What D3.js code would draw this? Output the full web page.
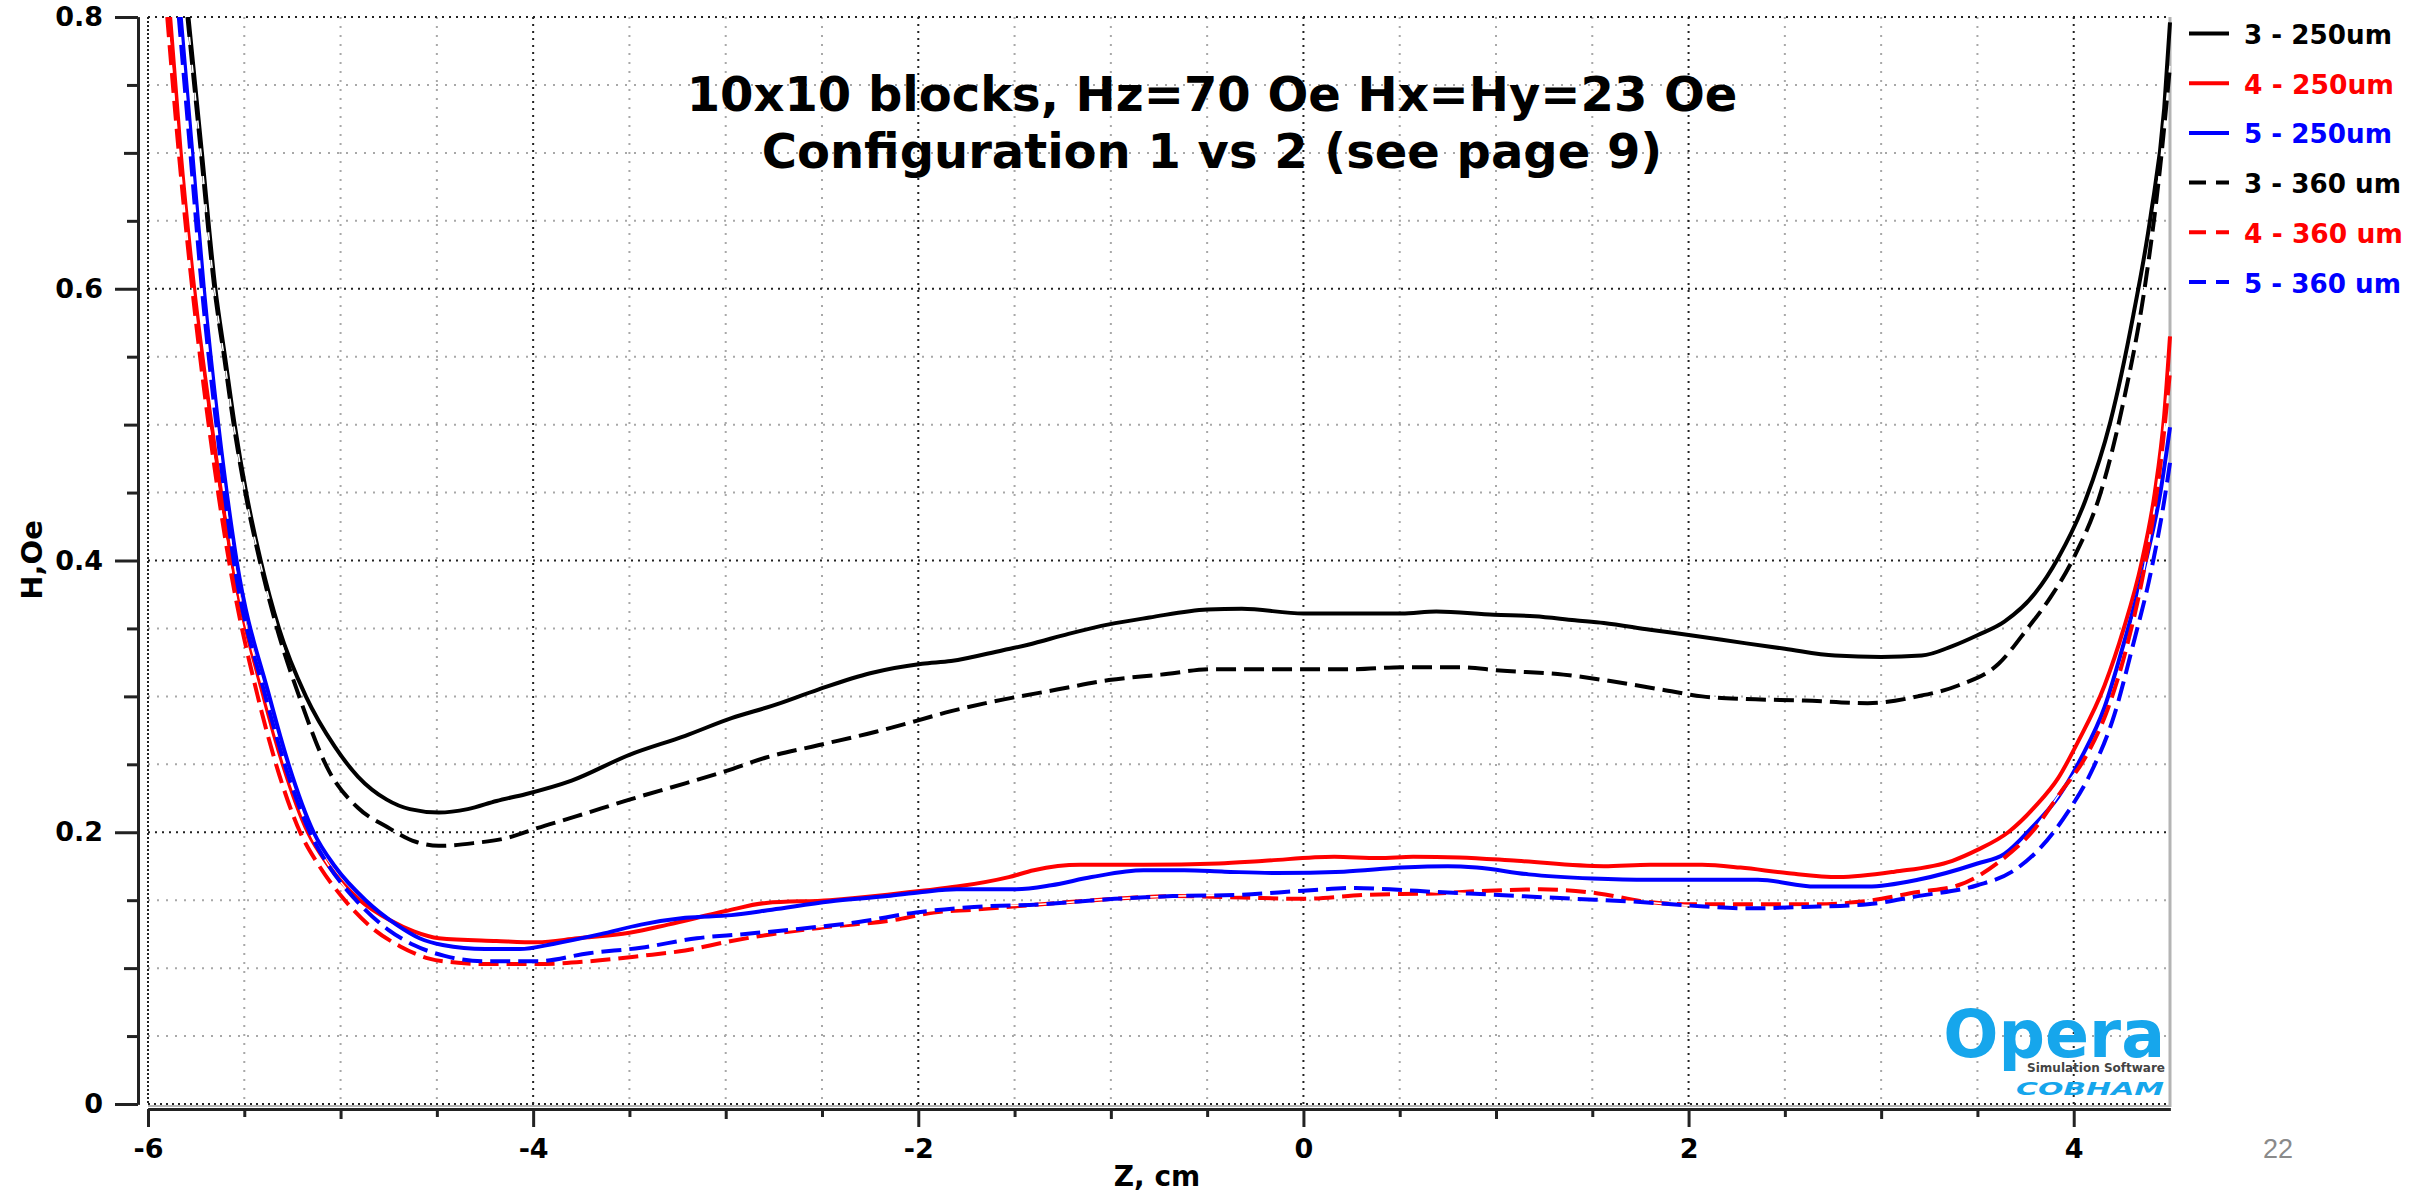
<!DOCTYPE html>
<html>
<head>
<meta charset="utf-8">
<script src="https://cdn.jsdelivr.net/npm/d3@7"></script>
<style>
html,body{margin:0;padding:0;background:#fff;}
svg{display:block;}
text{font-family:"DejaVu Sans",Verdana,sans-serif;}
</style>
</head>
<body>
<svg id="chart" width="2430" height="1195"></svg>
<script>
// ---------- data ----------
const titleLines = ["10x10 blocks, Hz=70 Oe Hx=Hy=23 Oe", "Configuration 1 vs 2 (see page 9)"];
const xLabel = "Z, cm";
const yLabel = "H,Oe";
const pageNumber = "22";

const seriesNames = ["3 - 250um", "4 - 250um", "5 - 250um", "3 - 360 um", "4 - 360 um", "5 - 360 um"];
const seriesColors = ["#000000", "#ff0000", "#0000ff", "#000000", "#ff0000", "#0000ff"];
const seriesDashed = [false, false, false, true, true, true];

const xMajorTicks = [-6, -4, -2, 0, 2, 4];
const xMidTicks = [-5, -3, -1, 1, 3];
const xMinorTicks = [-5.5, -4.5, -3.5, -2.5, -1.5, -0.5, 0.5, 1.5, 2.5, 3.5];
const yMajorTicks = [0, 0.2, 0.4, 0.6, 0.8];
const yMidTicks = [0.1, 0.3, 0.5, 0.7];
const yMinorTicks = [0.05, 0.15, 0.25, 0.35, 0.45, 0.55, 0.65, 0.75];

const s3_250 = [[-5.79,0.80],[-5.72,0.70],[-5.65,0.60],[-5.60,0.55],[-5.55,0.50],[-5.49,0.45],[-5.415,0.40],[-5.32,0.35],[-5.18,0.30],[-5.03,0.263],[-4.91,0.241],[-4.76,0.224],[-4.64,0.217],[-4.49,0.2145],[-4.34,0.217],[-4.19,0.223],[-4.04,0.228],[-3.80,0.238],[-3.50,0.257],[-3.21,0.271],[-2.97,0.284],[-2.76,0.293],[-2.52,0.305],[-2.25,0.317],[-1.98,0.324],[-1.83,0.326],[-1.56,0.334],[-1.43,0.338],[-1.22,0.346],[-1.01,0.353],[-0.80,0.358],[-0.50,0.364],[-0.32,0.3645],[0.0,0.361],[0.27,0.361],[0.51,0.361],[0.69,0.3625],[0.99,0.360],[1.20,0.359],[1.41,0.356],[1.56,0.354],[1.80,0.349],[2.01,0.345],[2.30,0.339],[2.50,0.335],[2.76,0.330],[3.00,0.329],[3.21,0.330],[3.37,0.337],[3.50,0.345],[3.64,0.355],[3.80,0.376],[3.92,0.402],[4.06,0.444],[4.19,0.502],[4.31,0.581],[4.40,0.654],[4.47,0.733],[4.50,0.796]];
const s4_250 = [[-5.885,0.80],[-5.83,0.70],[-5.76,0.60],[-5.67,0.50],[-5.565,0.40],[-5.40,0.30],[-5.30,0.25],[-5.17,0.20],[-5.06,0.175],[-4.90,0.150],[-4.74,0.135],[-4.62,0.127],[-4.49,0.122],[-4.19,0.120],[-3.98,0.119],[-3.77,0.122],[-3.50,0.126],[-3.30,0.132],[-3.00,0.142],[-2.79,0.148],[-2.46,0.150],[-2.16,0.154],[-1.98,0.157],[-1.80,0.160],[-1.53,0.167],[-1.40,0.172],[-1.16,0.176],[-0.83,0.176],[-0.44,0.177],[-0.20,0.179],[0.16,0.182],[0.39,0.181],[0.57,0.182],[0.81,0.1815],[1.11,0.179],[1.56,0.175],[1.80,0.176],[2.07,0.176],[2.27,0.174],[2.51,0.170],[2.78,0.167],[3.07,0.171],[3.37,0.179],[3.50,0.187],[3.66,0.200],[3.80,0.219],[3.92,0.240],[4.02,0.266],[4.16,0.308],[4.26,0.350],[4.35,0.397],[4.42,0.449],[4.47,0.507],[4.50,0.565]];
const s5_250 = [[-5.83,0.80],[-5.77,0.70],[-5.71,0.60],[-5.635,0.50],[-5.54,0.40],[-5.37,0.30],[-5.27,0.25],[-5.14,0.20],[-5.03,0.175],[-4.87,0.150],[-4.71,0.132],[-4.59,0.122],[-4.47,0.117],[-4.25,0.114],[-4.07,0.114],[-3.89,0.118],[-3.65,0.125],[-3.44,0.132],[-3.21,0.137],[-2.97,0.139],[-2.76,0.143],[-2.46,0.149],[-2.16,0.153],[-1.98,0.156],[-1.80,0.158],[-1.50,0.158],[-1.31,0.161],[-1.10,0.167],[-0.83,0.172],[-0.62,0.172],[-0.41,0.171],[-0.14,0.170],[0.21,0.171],[0.51,0.174],[0.75,0.175],[0.90,0.174],[1.17,0.169],[1.50,0.166],[1.80,0.165],[2.36,0.165],[2.66,0.160],[2.93,0.160],[3.19,0.165],[3.50,0.177],[3.64,0.184],[3.78,0.203],[3.92,0.226],[4.04,0.255],[4.16,0.292],[4.26,0.339],[4.37,0.397],[4.45,0.450],[4.50,0.498]];
const s3_360 = [[-5.795,0.80],[-5.725,0.70],[-5.655,0.60],[-5.605,0.55],[-5.555,0.50],[-5.495,0.45],[-5.42,0.40],[-5.33,0.35],[-5.215,0.30],[-5.06,0.245],[-4.91,0.218],[-4.76,0.204],[-4.61,0.193],[-4.49,0.190],[-4.31,0.192],[-4.13,0.196],[-3.98,0.203],[-3.77,0.212],[-3.50,0.224],[-3.21,0.236],[-3.00,0.245],[-2.79,0.255],[-2.52,0.264],[-2.22,0.274],[-2.01,0.282],[-1.86,0.288],[-1.65,0.295],[-1.28,0.305],[-1.01,0.312],[-0.74,0.316],[-0.47,0.320],[0.0,0.320],[0.27,0.320],[0.51,0.3215],[0.81,0.3215],[1.02,0.319],[1.35,0.316],[1.56,0.312],[1.86,0.305],[2.07,0.300],[2.30,0.298],[2.60,0.297],[2.93,0.295],[3.19,0.300],[3.40,0.308],[3.61,0.324],[3.76,0.350],[3.88,0.373],[4.00,0.402],[4.14,0.450],[4.26,0.518],[4.37,0.602],[4.45,0.691],[4.50,0.764]];
const s4_360 = [[-5.90,0.80],[-5.84,0.70],[-5.77,0.60],[-5.685,0.50],[-5.58,0.40],[-5.43,0.30],[-5.335,0.25],[-5.21,0.20],[-5.11,0.175],[-4.99,0.152],[-4.84,0.130],[-4.69,0.116],[-4.54,0.107],[-4.39,0.104],[-4.25,0.103],[-3.98,0.103],[-3.71,0.105],[-3.44,0.109],[-3.21,0.113],[-2.97,0.120],[-2.76,0.125],[-2.49,0.130],[-2.10,0.136],[-1.92,0.141],[-1.71,0.143],[-1.36,0.147],[-0.98,0.151],[-0.68,0.153],[-0.32,0.152],[0.0,0.151],[0.33,0.154],[0.69,0.155],[0.96,0.157],[1.23,0.158],[1.53,0.155],[1.77,0.149],[2.01,0.147],[2.30,0.147],[2.66,0.147],[2.90,0.149],[3.19,0.156],[3.40,0.161],[3.62,0.179],[3.80,0.203],[3.93,0.229],[4.06,0.255],[4.18,0.292],[4.28,0.339],[4.37,0.397],[4.45,0.470],[4.50,0.539]];
const s5_360 = [[-5.84,0.80],[-5.78,0.70],[-5.72,0.60],[-5.645,0.50],[-5.555,0.40],[-5.39,0.30],[-5.29,0.25],[-5.16,0.20],[-5.06,0.175],[-4.92,0.150],[-4.75,0.128],[-4.62,0.117],[-4.46,0.109],[-4.25,0.105],[-3.98,0.105],[-3.71,0.111],[-3.44,0.115],[-3.15,0.122],[-2.91,0.125],[-2.61,0.129],[-2.31,0.134],[-2.01,0.141],[-1.71,0.145],[-1.36,0.147],[-0.98,0.151],[-0.68,0.153],[-0.32,0.154],[0.0,0.157],[0.27,0.159],[0.45,0.158],[0.69,0.156],[0.99,0.154],[1.41,0.151],[1.71,0.149],[2.01,0.146],[2.30,0.144],[2.60,0.145],[2.93,0.147],[3.19,0.153],[3.50,0.161],[3.68,0.171],[3.83,0.189],[3.97,0.215],[4.09,0.244],[4.21,0.286],[4.31,0.339],[4.40,0.391],[4.47,0.444],[4.50,0.472]];
const seriesData = [s3_250, s4_250, s5_250, s3_360, s4_360, s5_360];

// ---------- layout ----------
const svg = d3.select("#chart");
const P = {left:148, right:2170, top:17, bottom:1104};
const x = d3.scaleLinear().domain([-6, 4.5]).range([P.left, P.right]);
const y = d3.scaleLinear().domain([0, 0.8]).range([P.bottom, P.top]);

// gridlines
const grid = svg.append("g");
const allXMinor = xMidTicks.concat(xMinorTicks);
const allYMinor = yMidTicks.concat(yMinorTicks);
grid.selectAll(".vmin").data(allXMinor).join("line")
  .attr("x1", d => x(d)).attr("x2", d => x(d)).attr("y1", P.top).attr("y2", P.bottom)
  .attr("stroke", "#a8a8a8").attr("stroke-width", 2).attr("stroke-dasharray", "2,7");
grid.selectAll(".hmin").data(allYMinor).join("line")
  .attr("y1", d => y(d)).attr("y2", d => y(d)).attr("x1", P.left).attr("x2", P.right)
  .attr("stroke", "#a8a8a8").attr("stroke-width", 2).attr("stroke-dasharray", "2,7");
grid.selectAll(".vmaj").data(xMajorTicks.filter(d => d !== -6)).join("line")
  .attr("x1", d => x(d)).attr("x2", d => x(d)).attr("y1", P.top).attr("y2", P.bottom)
  .attr("stroke", "#222").attr("stroke-width", 2).attr("stroke-dasharray", "2,5");
grid.selectAll(".hmaj").data(yMajorTicks.filter(d => d !== 0)).join("line")
  .attr("y1", d => y(d)).attr("y2", d => y(d)).attr("x1", P.left).attr("x2", P.right)
  .attr("stroke", "#222").attr("stroke-width", 2).attr("stroke-dasharray", "2,5");
// frame
grid.append("line").attr("x1", P.right).attr("x2", P.right).attr("y1", P.top).attr("y2", P.bottom+3)
  .attr("stroke", "#b4b4b4").attr("stroke-width", 3);
grid.append("line").attr("x1", P.left).attr("x2", P.right).attr("y1", P.bottom+2).attr("y2", P.bottom+2)
  .attr("stroke", "#b4b4b4").attr("stroke-width", 2);
grid.append("line").attr("x1", P.left).attr("x2", P.right).attr("y1", P.bottom).attr("y2", P.bottom)
  .attr("stroke", "#222").attr("stroke-width", 2).attr("stroke-dasharray", "2,4");
grid.append("line").attr("x1", P.left).attr("x2", P.left).attr("y1", P.top).attr("y2", P.bottom)
  .attr("stroke", "#222").attr("stroke-width", 2).attr("stroke-dasharray", "2,2");

// logo (under curves)
const logo = svg.append("g");
logo.append("text").attr("x", 2165).attr("y", 1057).attr("text-anchor", "end")
  .attr("font-size", 65).attr("font-weight", "bold").attr("fill", "#16a6ec").text("Opera");
logo.append("text").attr("x", 2165).attr("y", 1072).attr("text-anchor", "end")
  .attr("font-size", 12).attr("font-weight", "bold").attr("fill", "#444").text("Simulation Software");
logo.append("text").attr("x", 2016).attr("y", 1095)
  .attr("font-size", 17).attr("font-weight", "bold").attr("font-style", "italic")
  .attr("textLength", 148).attr("lengthAdjust", "spacingAndGlyphs")
  .attr("fill", "#16a6ec").text("COBHAM");

// clip
svg.append("clipPath").attr("id", "plotclip").append("rect")
  .attr("x", P.left).attr("y", P.top).attr("width", P.right - P.left + 2).attr("height", P.bottom - P.top);

const line = d3.line().x(d => x(d[0])).y(d => y(d[1])).curve(d3.curveMonotoneX);
const curves = svg.append("g").attr("clip-path", "url(#plotclip)");
seriesData.forEach((data, i) => {
  if (seriesDashed[i]) {
    curves.append("path").attr("d", line(data)).attr("fill", "none")
      .attr("stroke", "#fff").attr("stroke-width", 1.5);
  }
  curves.append("path").attr("d", line(data)).attr("fill", "none")
    .attr("stroke", seriesColors[i]).attr("stroke-width", 4)
    .attr("stroke-linejoin", "round")
    .attr("stroke-dasharray", seriesDashed[i] ? "20,8" : null);
});

// axes
const font = "bold 27px 'DejaVu Sans'";
const fmtY = d => d === 0 ? "0" : d3.format(".1f")(d);
const fmtX = d => String(d);
const yAxisG = svg.append("g").attr("transform", "translate(138,0)");
yAxisG.append("g").call(d3.axisLeft(y).tickValues(yMajorTicks).tickSize(23).tickPadding(12).tickSizeOuter(0).tickFormat(fmtY));
yAxisG.append("g").call(d3.axisLeft(y).tickValues(yMidTicks).tickSize(14).tickSizeOuter(0).tickFormat(""));
yAxisG.append("g").call(d3.axisLeft(y).tickValues(yMinorTicks).tickSize(11).tickSizeOuter(0).tickFormat(""));
const xAxisG = svg.append("g").attr("transform", "translate(0,1109)");
xAxisG.append("g").call(d3.axisBottom(x).tickValues(xMajorTicks).tickSize(18).tickPadding(12).tickSizeOuter(0).tickFormat(fmtX));
xAxisG.append("g").call(d3.axisBottom(x).tickValues(xMidTicks).tickSize(10).tickSizeOuter(0).tickFormat(""));
xAxisG.append("g").call(d3.axisBottom(x).tickValues(xMinorTicks).tickSize(8).tickSizeOuter(0).tickFormat(""));
svg.selectAll(".domain").attr("stroke", "#222").attr("stroke-width", 3);
svg.selectAll(".tick line").attr("stroke", "#222").attr("stroke-width", 3);
svg.selectAll(".tick text").style("font", font).attr("fill", "#000");

// axis titles
svg.append("text").attr("x", 1157).attr("y", 1186).attr("text-anchor", "middle")
  .attr("font-size", 28).attr("font-weight", "bold").text(xLabel);
svg.append("text").attr("transform", "translate(42,560) rotate(-90)").attr("text-anchor", "middle")
  .attr("font-size", 29).attr("font-weight", "bold").text(yLabel);

// title
svg.selectAll(".title").data(titleLines).join("text")
  .attr("x", 1212).attr("y", (d, i) => 111 + i * 57).attr("text-anchor", "middle")
  .attr("font-size", 48).attr("font-weight", "bold").attr("fill", "#000").text(d => d);

// legend
const legendWidths = [148, 150, 148, 157, 159, 157];
const leg = svg.append("g");
seriesNames.forEach((name, i) => {
  const yy = 33.5 + i * 49.7;
  leg.append("line").attr("x1", 2189).attr("x2", 2229).attr("y1", yy).attr("y2", yy)
    .attr("stroke", seriesColors[i]).attr("stroke-width", 4)
    .attr("stroke-dasharray", seriesDashed[i] ? "17,10" : null);
  leg.append("text").attr("x", 2244).attr("y", yy + 10.5)
    .attr("font-size", 26).attr("font-weight", "bold")
    .attr("textLength", legendWidths[i]).attr("lengthAdjust", "spacingAndGlyphs")
    .attr("fill", seriesColors[i]).text(name);
});

// page number
svg.append("text").attr("x", 2278).attr("y", 1158).attr("text-anchor", "middle")
  .style("font-family", "'Liberation Sans', Arial, sans-serif")
  .attr("font-size", 27).attr("fill", "#8a8a8a").text(pageNumber);
</script>
</body>
</html>
